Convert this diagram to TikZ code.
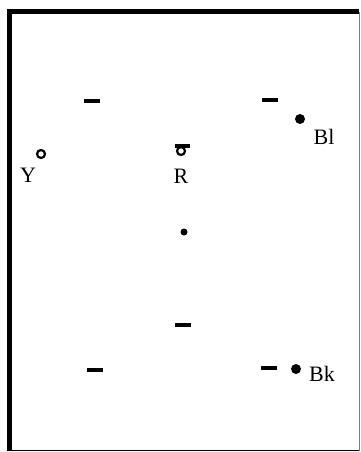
\documentclass[tikz,border=0pt]{standalone}
\usepackage{fontspec}
\setmainfont{Liberation Serif}
\usetikzlibrary{positioning}

\begin{document}
\begin{tikzpicture}[x=1pt, y=-1pt,
  piece/.style = {rectangle, fill, inner sep=0pt, minimum width=16pt, minimum height=4.5pt},
  spot/.style = {circle, fill, inner sep=0pt, minimum size=10pt},
  ring/.style = {circle, draw, line width=2.2pt, inner sep=0pt, minimum size=8pt},
  tag/.style = {inner sep=0pt, font=\fontsize{22}{24}\selectfont}]
\useasboundingbox (0,0) rectangle (360,452);
% frame
\draw[line width=5pt] (9.5,451) -- (9.5,12) -- (359,12);
\draw[line width=1pt, gray] (359,12) -- (359,451);
\draw[line width=1.2pt] (9.5,450.5) -- (359,450.5);
% bars
\node[piece] (p1) at (92,101) {};
\node[piece] (p2) at (270,100) {};
\node[piece] (p3) at (183,325) {};
\node[piece] (p4) at (95,370) {};
\node[piece] (p5) at (269,368) {};
% balls
\node[spot] (bl) at (300,119) {};
\node[tag] (blt) at (324,137) {Bl};
\node[ring] (y) at (41,154) {};
\node[tag] (yt) at (28,175) {Y};
\node[piece, minimum width=15pt, minimum height=4pt] (rb) at (182,146) {};
\node[ring] (r) at (181,151) {};
\node[tag] (rt) at (181,176) {R};
\node[spot, minimum size=7pt] (c) at (184,232) {};
\node[spot] (bk) at (296,369) {};
\node[tag] (bkt) at (322,374) {Bk};
\end{tikzpicture}
\end{document}
